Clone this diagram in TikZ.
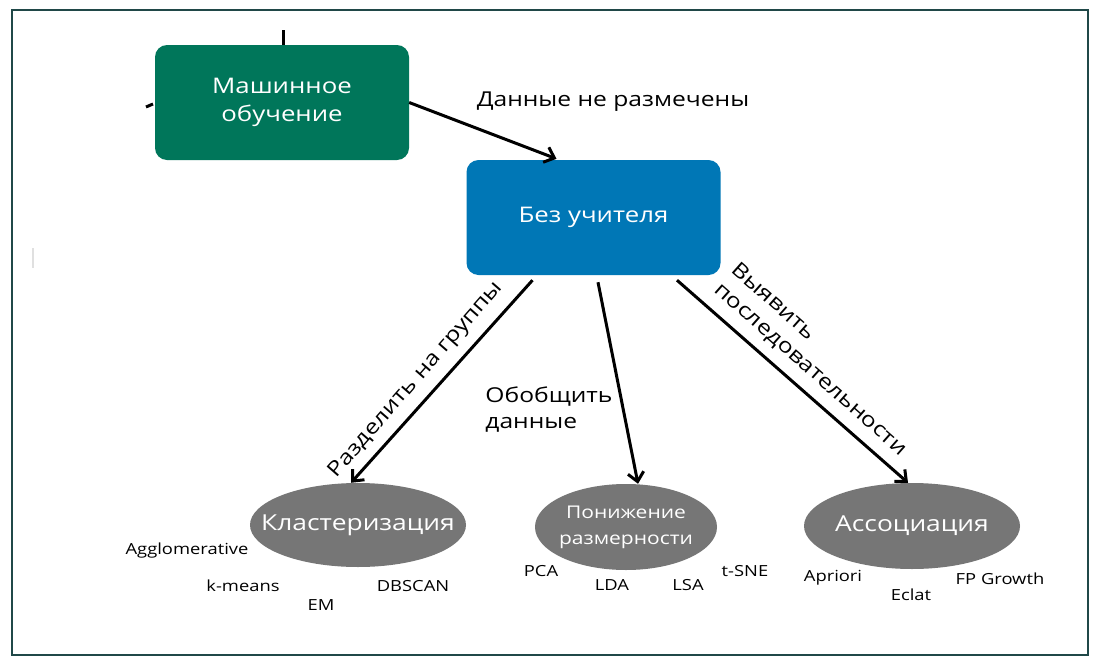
\documentclass[tikz,border=0pt]{standalone}
\usepackage{fontspec}
\setmainfont[FakeStretch=1.2]{Open Sans}
\usetikzlibrary{arrows.meta,shapes.geometric,calc}
\definecolor{mlgreen}{RGB}{0,118,90}
\definecolor{ulblue}{RGB}{0,119,182}
\definecolor{elgray}{RGB}{118,118,118}
\definecolor{framecol}{RGB}{32,72,72}
\tikzset{
  boxnode/.style={rounded corners=12pt, text=white, minimum width=254pt, minimum height=115pt, align=center, inner sep=0pt},
  ellnode/.style={ellipse, fill=elgray, inner sep=0pt},
  elltext/.style={text=white, align=center, inner sep=0pt},
  conn/.style={line width=3pt, -{Straight Barb[length=9pt,width=16pt,line width=3pt]}},
  lbl/.style={font=\fontsize{20.5}{26}\selectfont, text=black, inner sep=0pt},
  alg/.style={font=\fontsize{15.3}{18}\selectfont, text=black, inner sep=0pt},
  stray/.style={line width=3pt, black}
}
\begin{document}
\begin{tikzpicture}[x=1pt,y=-1pt]
\useasboundingbox (0,0) rectangle (1098,664);
\fill[white] (0,0) rectangle (1098,664);
\draw[framecol, line width=2pt] (12,10) rectangle (1088,655);
% stray marks
\draw[stray] (283,30) -- (283,45);
\draw[stray] (146,107) -- (153,104);
\draw[black!12, line width=1.5pt] (33,248) -- (33,268);
% boxes
\node[boxnode, fill=mlgreen, font=\fontsize{21.5}{28}\selectfont] (ml) at (282,102.5) {Машинное\\обучение};
\node[boxnode, fill=ulblue, font=\fontsize{21.5}{26}\selectfont] (bu) at (593.5,217.5) {Без учителя};
% ellipses
\node[ellnode, minimum width=216pt, minimum height=84pt] (kl) at (358,525) {};
\node[elltext, font=\fontsize{22}{26}\selectfont] (klt) at (kl.center) {Кластеризация};
\node[ellnode, minimum width=182pt, minimum height=86pt] (pr) at (626,527) {};
\node[elltext, font=\fontsize{17.5}{26}\selectfont] (prt) at (pr.center) {Понижение\\размерности};
\node[ellnode, minimum width=216pt, minimum height=86pt] (as) at (912,526) {};
\node[elltext, font=\fontsize{22}{26}\selectfont] (ast) at (as.center) {Ассоциация};
% connectors
\draw[conn] (ml.east) -- ($(bu.north)+(-37,-1)$);
\draw[conn] ($(bu.south)+(-61,5)$) -- ($(kl.north)+(-7,0)$);
\draw[conn] ($(bu.south)+(4.5,7)$) -- ($(pr.north)+(12,0)$);
\draw[conn] ($(bu.south)+(83.5,5)$) -- ($(as.north)+(-4,0)$);
% connector labels
\node[lbl] (l1) at (613,102) {Данные не размечены};
\node[lbl, rotate=48.8] (l2) at (416,380) {Разделить на группы};
\node[lbl, align=left] (l3) at (549,410) {Обобщить\\данные};
\node[lbl, align=left, rotate=-41.5] (l4) at (819,360) {Выявить\\последовательности};
% algorithms
\node[alg] (a1) at (187,551) {Agglomerative};
\node[alg] (a2) at (243,586) {k-means};
\node[alg] (a3) at (321,605) {EM};
\node[alg] (a4) at (413,586) {DBSCAN};
\node[alg] (b1) at (541,571) {PCA};
\node[alg] (b2) at (612,585) {LDA};
\node[alg] (b3) at (688,585) {LSA};
\node[alg] (b4) at (745,571) {t-SNE};
\node[alg] (c1) at (833,578) {Apriori};
\node[alg] (c2) at (911,595) {Eclat};
\node[alg] (c3) at (1000,579) {FP Growth};
\end{tikzpicture}
\end{document}
